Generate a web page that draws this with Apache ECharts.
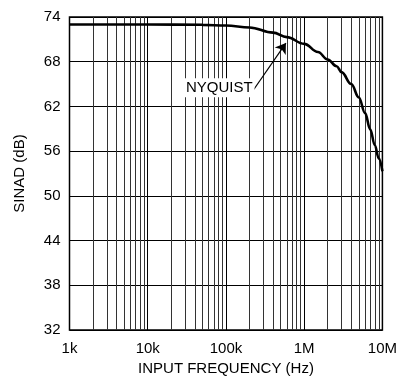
<!DOCTYPE html>
<html>
<head>
<meta charset="utf-8">
<script src="https://cdn.jsdelivr.net/npm/echarts@6/dist/echarts.min.js"></script>
<style>html,body{margin:0;padding:0;background:#fff;}#c{width:400px;height:381px;}</style>
</head>
<body>
<div id="c"></div>
<script>
const freqs = [1000, 10000, 50000, 100000, 200000, 400000, 600000, 1000000, 1500000, 2000000, 2600000, 3000000, 4000000, 5000000, 6000000, 7000000, 8000000, 9000000, 10000000];
const sinad = [73.0, 73.0, 72.95, 72.85, 72.6, 71.9, 71.3, 70.4, 69.3, 68.3, 67.4, 66.6, 65.0, 63.2, 61.1, 58.9, 56.8, 55.0, 53.3];
const xTickLabels = {1000: '1k', 10000: '10k', 100000: '100k', 1000000: '1M', 10000000: '10M'};
const minorGrid = [];
[1000, 10000, 100000, 1000000].forEach(d => { for (let m = 2; m <= 9; m++) minorGrid.push(d * m); });
const nyquistText = 'NYQUIST';
const nyquistLabelPos = [82000, 64.5];
const nyquistArrow = [[221000, 64.1], [584000, 70.5]];

const font = "'Liberation Sans Narrow', 'Liberation Sans', Arial, sans-serif";
const chart = echarts.init(document.getElementById('c'), null, {renderer: 'canvas'});
chart.setOption({
  animation: false,
  backgroundColor: '#fff',
  grid: {left: 69.5, right: 14, top: 17, bottom: 48, show: true, borderColor: '#000', borderWidth: 1.5},
  xAxis: {
    type: 'log', logBase: 10, min: 1000, max: 10000000,
    name: 'INPUT FREQUENCY (Hz)', nameLocation: 'middle', nameGap: 31,
    nameTextStyle: {fontFamily: font, fontSize: 15, color: '#000'},
    axisLine: {show: false}, axisTick: {show: false},
    axisLabel: {fontFamily: font, fontSize: 15, color: '#000', margin: 11,
      formatter: v => xTickLabels[Math.round(v)] || ''},
    splitLine: {show: true, lineStyle: {color: '#000', width: 1}}
  },
  yAxis: {
    type: 'value', min: 32, max: 74, interval: 6,
    name: 'SINAD (dB)', nameLocation: 'middle', nameGap: 42,
    nameTextStyle: {fontFamily: font, fontSize: 15, color: '#000'},
    axisLine: {show: false}, axisTick: {show: false},
    axisLabel: {fontFamily: font, fontSize: 15, color: '#000', margin: 9},
    splitLine: {show: true, lineStyle: {color: '#000', width: 1}}
  },
  series: [
    {
      type: 'line', data: [], silent: true, z: 0,
      markLine: {
        silent: true, symbol: ['none', 'none'], animation: false,
        label: {show: false},
        lineStyle: {color: '#333', width: 1, type: 'solid'},
        data: minorGrid.map(v => ({xAxis: v}))
      }
    },
    {
      type: 'line', smooth: 0.4, smoothMonotone: 'x', showSymbol: false,
      data: freqs.map((f, i) => [f, sinad[i]]),
      lineStyle: {color: '#000', width: 2.6},
      zlevel: 1, z: 10
    },
    {
      type: 'line', data: [], silent: true, zlevel: 1, z: 11,
      markLine: {
        silent: true, symbol: ['none', 'arrow'], symbolSize: 10, animation: false,
        label: {show: false},
        lineStyle: {color: '#000', width: 1.2, type: 'solid'},
        data: [[{coord: nyquistArrow[0]}, {coord: nyquistArrow[1]}]]
      },
      markPoint: {
        silent: true, symbol: 'rect', symbolSize: 0, animation: false,
        data: [{coord: nyquistLabelPos}],
        label: {show: true, position: 'inside', formatter: nyquistText,
          fontFamily: font, fontSize: 15, color: '#000',
          backgroundColor: '#fff', padding: [2, 2]}
      }
    }
  ]
});
</script>
</body>
</html>
